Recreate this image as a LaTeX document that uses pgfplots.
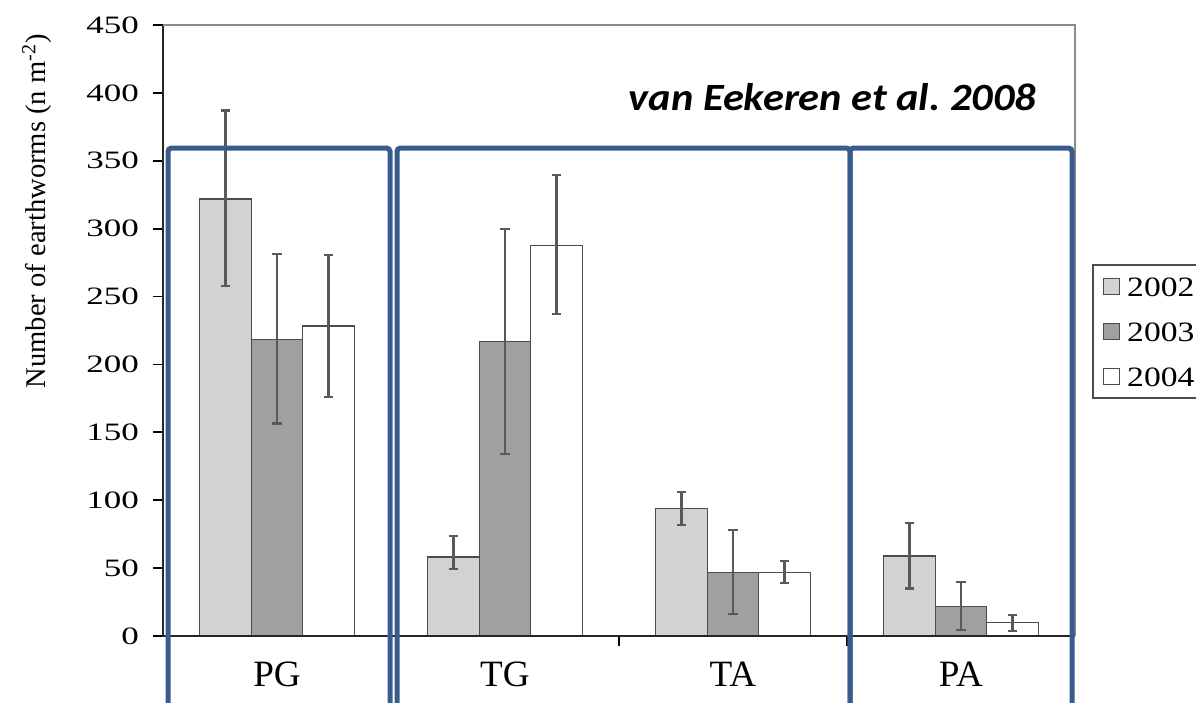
\documentclass[border=0pt]{standalone}
\usepackage{fontspec}
\setmainfont{Liberation Serif}
\newfontfamily\calib{Carlito}
\usepackage{pgfplots}
\pgfplotsset{compat=1.18}
\usepackage{pgfplotstable}
\definecolor{boxblue}{RGB}{58,92,140}
\definecolor{cA}{RGB}{210,210,210}
\definecolor{cB}{RGB}{160,160,160}

\pgfplotstableread{
x y ep em
0 322 65 64
1 58.2 15.4 8.9
2 94 12 12
3 59 24 24
}\dA
\pgfplotstableread{
x y ep em
0 218.5 63 62
1 216.8 82.7 83
2 46.7 31.5 30.5
3 21.6 18.4 17.2
}\dB
\pgfplotstableread{
x y ep em
0 228.3 52 52
1 287.5 52 50.6
2 46.9 8.6 7.6
3 9.8 5.7 6.1
}\dC

\begin{document}
\frenchspacing
\begin{tikzpicture}
\begin{axis}[
  ybar,
  scale only axis,
  width=319.2pt, height=213.85pt,
  xmin=-0.5, xmax=3.5, ymin=0, ymax=450,
  ytick={0,50,...,450},
  xtick={0,1,2,3},
  xticklabels={PG,TG,TA,PA},
  x tick style={draw=none},
  extra x ticks={0.5,1.5,2.5},
  extra x tick labels={},
  extra x tick style={x tick style={draw=black}},
  tick pos=left,
  tick align=outside,
  major tick length=3.5pt,
  tick style={black, line width=0.6pt},
  axis line style={draw=none},
  clip=false,
  /pgf/number format/assume math mode=true,
  y tick label style={font=\fontsize{8.75}{10}\selectfont, xscale=1.4},
  x tick label style={font=\fontsize{13}{15}\selectfont, yshift=-2.2pt},
  bar width=0.226,
  legend style={at={(1.0186,0.6088)}, anchor=north west, draw=black!70, line width=0.6pt,
    font=\fontsize{9.8}{11}\selectfont, inner xsep=3.5pt, inner ysep=4pt,
    row sep=8.75pt, column sep=2.45pt,
    nodes={inner sep=0pt, text height=7pt, text depth=0pt, xscale=1.2}},
  legend cell align=left,
  legend image code/.code={\draw[#1, line width=0.5pt] (0pt,-2.8pt) rectangle (5.6pt,2.8pt);},
  error bars/error bar style={black!65, line width=0.75pt},
  error bars/error mark options={rotate=90, black!65, mark size=1.6pt, line width=0.75pt},
]
\addplot[bar shift=-0.226, fill=cA, draw=black!70, line width=0.5pt,
  error bars/.cd, y dir=both, y explicit]
  table[x=x, y=y, y error plus=ep, y error minus=em]{\dA};
\addlegendentry{2002}
\addplot[bar shift=0, fill=cB, draw=black!70, line width=0.5pt,
  error bars/.cd, y dir=both, y explicit]
  table[x=x, y=y, y error plus=ep, y error minus=em]{\dB};
\addlegendentry{2003}
\addplot[bar shift=0.226, fill=white, draw=black!70, line width=0.5pt,
  error bars/.cd, y dir=both, y explicit]
  table[x=x, y=y, y error plus=ep, y error minus=em]{\dC};
\addlegendentry{2004}
\draw[black!85, line width=0.7pt] (rel axis cs:0,1) -- (rel axis cs:0,0) -- (rel axis cs:1,0);
\draw[black!45, line width=0.7pt] (rel axis cs:0,1) -- (rel axis cs:1,1) -- (rel axis cs:1,0);
\coordinate (O) at (rel axis cs:0,0);
\end{axis}
\begin{scope}[shift={(O)}, xshift=-57.05pt, yshift=222.6pt, x=0.35pt, y=-0.35pt]
  \node[rotate=90, font=\fontsize{10}{12}\selectfont] at (37,211) {Number of earthworms (n m\textsuperscript{-2})};
  \node[anchor=base east, inner sep=0pt, xscale=1.1, font=\calib\bfseries\itshape\fontsize{13.5}{16}\selectfont] at (1037,110) {van Eekeren et al. 2008};
  \draw[boxblue, line width=1.75pt, rounded corners=1.2pt] (168,720) -- (168,148) -- (390,148) -- (390,720);
  \draw[boxblue, line width=1.75pt, rounded corners=1.2pt] (397,720) -- (397,148) -- (850,148) -- (850,720);
  \draw[boxblue, line width=1.75pt, rounded corners=1.2pt] (850,720) -- (850,148) -- (1072,148) -- (1072,720);
  \pgfresetboundingbox
  \path (0,0) rectangle (1196,702);
\end{scope}
\end{tikzpicture}
\end{document}
